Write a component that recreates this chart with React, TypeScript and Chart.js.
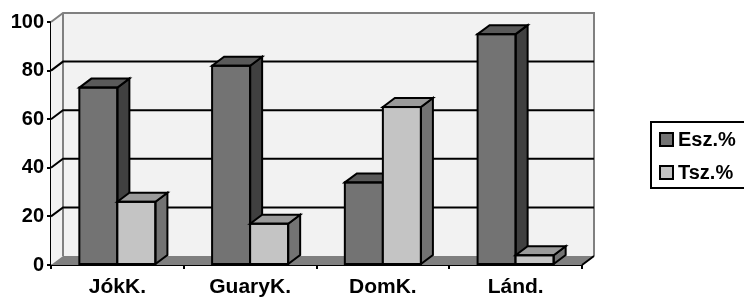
import React, { useEffect, useRef } from "react";
import { Chart, registerables } from "chart.js";

Chart.register(...registerables);

const categories = ["JókK.", "GuaryK.", "DomK.", "Lánd."];
const eszLabel = "Esz.%";
const tszLabel = "Tsz.%";
const eszValues = [73, 82, 34, 95];
const tszValues = [26, 17, 65, 4];
const yMin = 0;
const yMax = 100;
const yStep = 20;

const DX = 12;
const DY = -9;
const FONT = 'Arial, "Liberation Sans", sans-serif';

const COLORS = {
  esz: { front: "#737373", side: "#404040", top: "#5a5a5a" },
  tsz: { front: "#c4c4c4", side: "#737373", top: "#9a9a9a" },
  wall: "#f2f2f2",
  wallEdge: "#808080",
  floor: "#808080",
};

function draw3DBar(ctx: any, bar: any, col: any) {
  const { x, y, base, width } = bar.getProps(["x", "y", "base", "width"], true);
  const l = x - width / 2, r = x + width / 2;
  ctx.fillStyle = col.side;
  ctx.beginPath();
  ctx.moveTo(r, y); ctx.lineTo(r + DX, y + DY); ctx.lineTo(r + DX, base + DY); ctx.lineTo(r, base);
  ctx.closePath(); ctx.fill(); ctx.stroke();
  ctx.fillStyle = col.top;
  ctx.beginPath();
  ctx.moveTo(l, y); ctx.lineTo(l + DX, y + DY); ctx.lineTo(r + DX, y + DY); ctx.lineTo(r, y);
  ctx.closePath(); ctx.fill(); ctx.stroke();
  ctx.strokeRect(l, y, width, base - y);
}

const threeD = {
  id: "threeD",
  beforeDatasetsDraw(chart: any) {
    const { ctx, chartArea } = chart;
    const ys = chart.scales.y;
    const L = chartArea.left, R = chartArea.right;
    const T = ys.getPixelForValue(yMax), B = ys.getPixelForValue(yMin);
    ctx.save();
    ctx.fillStyle = COLORS.wall;
    ctx.fillRect(L + DX, T + DY, R - L, B - T);
    ctx.beginPath();
    ctx.moveTo(L, T); ctx.lineTo(L + DX, T + DY); ctx.lineTo(L + DX, B + DY); ctx.lineTo(L, B);
    ctx.closePath(); ctx.fill();
    ctx.fillStyle = COLORS.floor;
    ctx.beginPath();
    ctx.moveTo(L, B); ctx.lineTo(L + DX, B + DY); ctx.lineTo(R + DX, B + DY); ctx.lineTo(R, B);
    ctx.closePath(); ctx.fill();
    ctx.strokeStyle = COLORS.wallEdge;
    ctx.lineWidth = 2;
    ctx.beginPath();
    ctx.moveTo(L, T); ctx.lineTo(L + DX, T + DY); ctx.lineTo(R + DX, T + DY); ctx.lineTo(R + DX, B + DY);
    ctx.moveTo(L + DX, T + DY); ctx.lineTo(L + DX, B + DY);
    ctx.stroke();
    ctx.strokeStyle = "#000";
    ctx.beginPath();
    for (let v = yMin + yStep; v < yMax; v += yStep) {
      const py = ys.getPixelForValue(v);
      ctx.moveTo(L, py); ctx.lineTo(L + DX, py + DY); ctx.lineTo(R + DX, py + DY);
    }
    ctx.moveTo(R, B); ctx.lineTo(R + DX, B + DY);
    ctx.stroke();
    ctx.restore();
  },
  afterDatasetsDraw(chart: any) {
    const { ctx } = chart;
    ctx.save();
    ctx.lineWidth = 2;
    ctx.strokeStyle = "#000";
    ctx.lineJoin = "miter";
    const m0 = chart.getDatasetMeta(0);
    const m1 = chart.getDatasetMeta(1);
    m0.data.forEach((bar: any) => draw3DBar(ctx, bar, COLORS.esz));
    m1.data.forEach((bar: any) => {
      bar.draw(ctx);
      ctx.lineWidth = 2;
      ctx.strokeStyle = "#000";
      draw3DBar(ctx, bar, COLORS.tsz);
    });
    ctx.restore();
  },
  afterDraw(chart: any) {
    const { ctx } = chart;
    ctx.save();
    const bx = 651, by = 122, bw = 96, bh = 66;
    ctx.fillStyle = "#fff";
    ctx.fillRect(bx, by, bw, bh);
    ctx.strokeStyle = "#000";
    ctx.lineWidth = 2;
    ctx.strokeRect(bx, by, bw, bh);
    ctx.font = `bold 20px ${FONT}`;
    ctx.textBaseline = "middle";
    chart.data.datasets.forEach((ds: any, i: number) => {
      const cy = 139.5 + i * 33;
      ctx.fillStyle = ds.backgroundColor;
      ctx.fillRect(660, cy - 6.5, 13, 13);
      ctx.strokeRect(660, cy - 6.5, 13, 13);
      ctx.fillStyle = "#000";
      ctx.fillText(ds.label, 678, cy + 1);
    });
    ctx.restore();
  },
};

export default function App() {
  const ref = useRef<HTMLCanvasElement>(null);
  useEffect(() => {
    if (!ref.current) return;
    const chart = new Chart(ref.current, {
      type: "bar",
      data: {
        labels: categories,
        datasets: [
          { label: eszLabel, data: eszValues, backgroundColor: COLORS.esz.front, borderWidth: 0 },
          { label: tszLabel, data: tszValues, backgroundColor: COLORS.tsz.front, borderWidth: 0 },
        ],
      },
      options: {
        responsive: false,
        animation: false,
        devicePixelRatio: 1,
        layout: { padding: { left: 0, top: 22, right: 162, bottom: 0 } },
        datasets: { bar: { categoryPercentage: 0.573, barPercentage: 1 } },
        plugins: { legend: { display: false }, tooltip: { enabled: false } },
        scales: {
          x: {
            grid: { drawOnChartArea: false, drawTicks: true, tickLength: 4, color: "#000", lineWidth: 2, offset: true },
            border: { display: true, color: "#000", width: 2 },
            ticks: { color: "#000", font: { family: FONT, weight: "bold", size: 21 }, padding: 6, maxRotation: 0, autoSkip: false },
            afterFit: (s: any) => { s.height = 32; },
          },
          y: {
            min: yMin,
            max: yMax,
            grid: { drawOnChartArea: false, drawTicks: true, tickLength: 4, color: "#000", lineWidth: 2 },
            border: { display: true, color: "#000", width: 2 },
            ticks: { stepSize: yStep, color: "#000", font: { family: FONT, weight: "bold", size: 20 }, padding: 3 },
            afterFit: (s: any) => { s.width = 51; },
          },
        },
      },
      plugins: [threeD],
    });
    return () => chart.destroy();
  }, []);
  return (
    <canvas
      ref={ref}
      width={744}
      height={297}
      style={{ position: "fixed", left: 0, top: 0, width: 744, height: 297, display: "block", background: "#fff" }}
    />
  );
}
